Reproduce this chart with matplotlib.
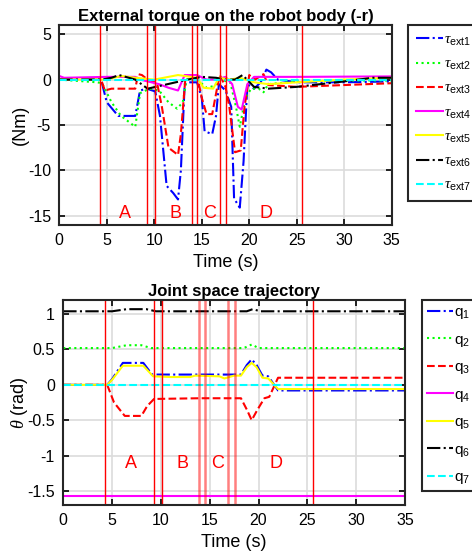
import matplotlib.pyplot as plt
import numpy as np

plt.rcParams['font.family'] = ['Liberation Sans', 'DejaVu Sans']
plt.rcParams['mathtext.fontset'] = 'custom'
plt.rcParams['mathtext.rm'] = 'Liberation Sans'
plt.rcParams['mathtext.it'] = 'Liberation Serif:italic'
plt.rcParams['axes.unicode_minus'] = False

# ---- external torque keypoints (time s, torque Nm) ----
t1 = [0, 4.4, 5.0, 6.2, 8.0, 8.5, 9.2, 10.1, 10.6, 11.3, 12.0, 12.5, 12.8, 13.2, 13.5, 14.5, 15.0, 15.3, 16.1, 16.5, 16.8, 17.5, 18.1, 18.4, 19.0, 19.4, 19.8, 20.5, 21.2, 21.8, 22.3, 23.0, 25.0, 30.0, 35.0]
tau1 = [0, 0, -2.5, -4.0, -4.0, -1.2, -1.0, -1.3, -4.0, -11.7, -12.5, -13.2, -10.0, -0.5, -0.3, -0.3, -2.0, -5.7, -6.0, -4.0, -0.5, -1.2, -3.0, -13.1, -14.1, -9.0, -0.5, -1.0, -0.3, 1.1, 0.8, 0.0, -0.3, -0.3, -0.2]

t2 = [0, 4.0, 4.5, 5.5, 6.5, 8.0, 8.5, 9.5, 10.5, 11.5, 12.4, 13.0, 13.4, 14.5, 15.5, 16.3, 17.0, 18.0, 18.6, 19.0, 19.6, 20.2, 21.0, 21.5, 22.0, 25.0, 30.0, 35.0]
tau2 = [0, -0.3, -0.4, -2.5, -4.0, -5.2, -1.5, -1.0, -1.2, -2.5, -3.2, -2.5, 0, 0, -0.9, -0.7, 0, -0.3, -3.0, -5.2, -2.0, -1.0, -1.0, -1.4, -0.5, -0.2, -0.1, -0.1]

t3 = [0, 4.4, 4.8, 5.5, 8.0, 8.3, 8.7, 9.3, 10.3, 10.8, 11.5, 12.5, 12.8, 13.3, 14.5, 15.0, 15.5, 16.1, 16.6, 16.9, 17.5, 17.9, 18.5, 19.1, 19.5, 20.0, 20.6, 21.5, 22.0, 25.0, 30.0, 35.0]
tau3 = [0, 0, -1.2, -1.0, -1.0, 0.6, 0.5, 0, -0.4, -3.0, -7.5, -8.3, -6.0, 0.5, 0.5, -2.0, -3.8, -3.8, -1.0, 0.5, -0.8, -3.0, -8.0, -7.8, -3.0, 0.5, 0.0, 0.6, -0.6, -0.8, -0.6, -0.4]

t4 = [0, 0.5, 5.0, 8.0, 8.5, 9.3, 10.5, 11.5, 12.5, 13.2, 14.5, 15.5, 16.5, 17.5, 18.2, 18.8, 19.2, 19.8, 20.5, 25.0, 35.0]
tau4 = [0.4, 0.2, 0.3, 0.3, 0.0, -0.2, -0.5, -0.9, -1.2, 0.5, 0.5, 0.0, 0.0, 0.3, -0.5, -3.0, -3.3, -0.5, 0.3, 0.3, 0.35]

t5 = [0, 5.0, 6.5, 8.0, 10.0, 12.5, 13.2, 14.5, 15.2, 16.2, 16.8, 18.0, 19.0, 20.5, 22.0, 25.0, 30.0, 35.0]
tau5 = [0, 0, 0.4, 0.2, 0, 0.5, 0.4, 0.2, -0.9, -1.0, 0.2, 0.0, 0.2, -0.3, -0.5, -0.3, 0.0, 0.2]

t6 = [0, 4.5, 5.5, 6.3, 8.0, 9.3, 11.0, 13.5, 15.0, 16.5, 17.5, 18.5, 19.3, 20.5, 22.0, 25.0, 30.0, 33.0, 35.0]
tau6 = [0, 0, 0.2, 0.5, 0.0, -1.0, -0.6, 0.0, 0.3, 0.2, 0.0, 0.0, 0.5, -0.8, -1.0, -0.8, -0.2, 0.2, 0.2]

t7 = [0, 35.0]
tau7 = [0, 0]

# ---- joint angle keypoints (time s, rad) ----
tq1 = [0, 4.5, 5.0, 6.1, 8.2, 9.1, 18.2, 18.8, 19.3, 19.8, 20.4, 21.0, 22.0, 35.0]
q1 = [0, 0, 0.08, 0.31, 0.31, 0.145, 0.145, 0.28, 0.36, 0.28, 0.13, 0.12, -0.08, -0.08]
tq2 = [0, 5.0, 6.5, 8.0, 9.0, 18.5, 19.3, 20.0, 35.0]
q2 = [0.52, 0.52, 0.56, 0.56, 0.52, 0.52, 0.57, 0.52, 0.52]
tq3 = [0, 4.5, 5.2, 6.3, 8.0, 8.6, 9.3, 14.0, 18.2, 18.8, 19.3, 19.9, 20.6, 21.1, 22.0, 35.0]
q3 = [0, 0, -0.25, -0.44, -0.44, -0.3, -0.2, -0.19, -0.19, -0.35, -0.5, -0.35, -0.19, -0.17, 0.1, 0.1]
tq4 = [0, 35.0]
q4 = [-1.57, -1.57]
tq5 = [0, 4.5, 5.0, 6.1, 8.2, 9.2, 11.0, 13.0, 13.5, 16.0, 16.5, 17.5, 18.2, 18.8, 19.3, 19.8, 20.4, 21.0, 22.0, 35.0]
q5 = [0, 0, 0.07, 0.27, 0.27, 0.12, 0.11, 0.11, 0.13, 0.12, 0.09, 0.13, 0.13, 0.25, 0.31, 0.25, 0.1, 0.09, -0.06, -0.06]
tq6 = [0, 5.0, 6.5, 8.5, 9.5, 18.8, 19.4, 20.2, 35.0]
q6 = [1.04, 1.04, 1.07, 1.07, 1.04, 1.04, 1.07, 1.04, 1.04]
tq7 = [0, 35.0]
q7 = [0, 0]

phase_lines = [4.3, 9.25, 10.08, 13.95, 14.48, 16.9, 17.6, 25.6]
phase_names = ['A', 'B', 'C', 'D']
phase_pos = [6.9, 12.2, 15.85, 21.75]

colors = ['#0000ff', '#00ff00', '#ff0000', '#ff00ff', '#ffff00', '#000000', '#00ffff']
styles = ['-.', ':', '--', '-', '-', '-.', '--']

fig = plt.figure(figsize=(4.72, 5.58), dpi=100)
ax1 = fig.add_axes([0.1256, 0.597, 0.7044, 0.358])
ax2 = fig.add_axes([0.134, 0.095, 0.724, 0.3674])

def style_axes(ax):
    ax.grid(True, color='#dcdcdc', linewidth=1.2)
    ax.set_axisbelow(True)
    for s in ax.spines.values():
        s.set_linewidth(1.5)
        s.set_color('#262626')
    ax.tick_params(direction='in', length=4, width=1.2, labelsize=11.5, top=True, right=True, pad=6)
    ax.set_xlim(0, 35)
    ax.set_xticks(np.arange(0, 36, 5))
    ax.set_xlabel('Time (s)', fontsize=13, labelpad=4)

# top plot
ts = [t1, t2, t3, t4, t5, t6, t7]
taus = [tau1, tau2, tau3, tau4, tau5, tau6, tau7]
for i in range(7):
    ax1.plot(ts[i], taus[i], color=colors[i], linestyle=styles[i], linewidth=1.5,
             label=r'$\tau_{\mathrm{ext%d}}$' % (i + 1))
for x in phase_lines:
    ax1.axvline(x, color='red', linewidth=1)
for n, x in zip(phase_names, phase_pos):
    ax1.text(x, -14.8, n, color='red', fontsize=13, ha='center', va='center')
ax1.set_ylim(-16, 6)
ax1.set_yticks([-15, -10, -5, 0, 5])
style_axes(ax1)
ax1.set_ylabel('(Nm)', fontsize=13, labelpad=-1)
ax1.set_title('External torque on the robot body (-r)', fontsize=12, fontweight='bold', pad=3)
leg1 = ax1.legend(loc='upper left', bbox_to_anchor=(1.05, 1.0), borderaxespad=0, fontsize=11,
                  handlelength=1.75, labelspacing=0.6, borderpad=0.5, handletextpad=0.1,
                  fancybox=False, framealpha=1)
leg1.get_frame().set_edgecolor('#262626')
leg1.get_frame().set_linewidth(1.5)

# bottom plot
tqs = [tq1, tq2, tq3, tq4, tq5, tq6, tq7]
qs = [q1, q2, q3, q4, q5, q6, q7]
for i in range(7):
    ax2.plot(tqs[i], qs[i], color=colors[i], linestyle=styles[i], linewidth=1.5,
             label=r'q$_{%d}$' % (i + 1))
for j, x in enumerate(phase_lines):
    if j in (3, 4, 5, 6):
        ax2.axvline(x, color='red', linewidth=1.8, alpha=0.5)
    else:
        ax2.axvline(x, color='red', linewidth=1)
for n, x in zip(phase_names, phase_pos):
    ax2.text(x, -1.11, n, color='red', fontsize=13, ha='center', va='center')
ax2.set_ylim(-1.7, 1.2)
ax2.set_yticks([-1.5, -1, -0.5, 0, 0.5, 1])
ax2.set_yticklabels(['-1.5', '-1', '-0.5', '0', '0.5', '1'])
style_axes(ax2)
ax2.set_ylabel(r'$\theta$ (rad)', fontsize=13, labelpad=-2)
ax2.set_title('Joint space trajectory', fontsize=12, fontweight='bold', pad=3)
leg2 = ax2.legend(loc='upper left', bbox_to_anchor=(1.05, 1.0), borderaxespad=0, fontsize=11,
                  handlelength=1.65, labelspacing=0.75, borderpad=0.35, handletextpad=0.1,
                  fancybox=False, framealpha=1)
leg2.get_frame().set_edgecolor('#262626')
leg2.get_frame().set_linewidth(1.5)

fig.savefig('out.png', dpi=100)
